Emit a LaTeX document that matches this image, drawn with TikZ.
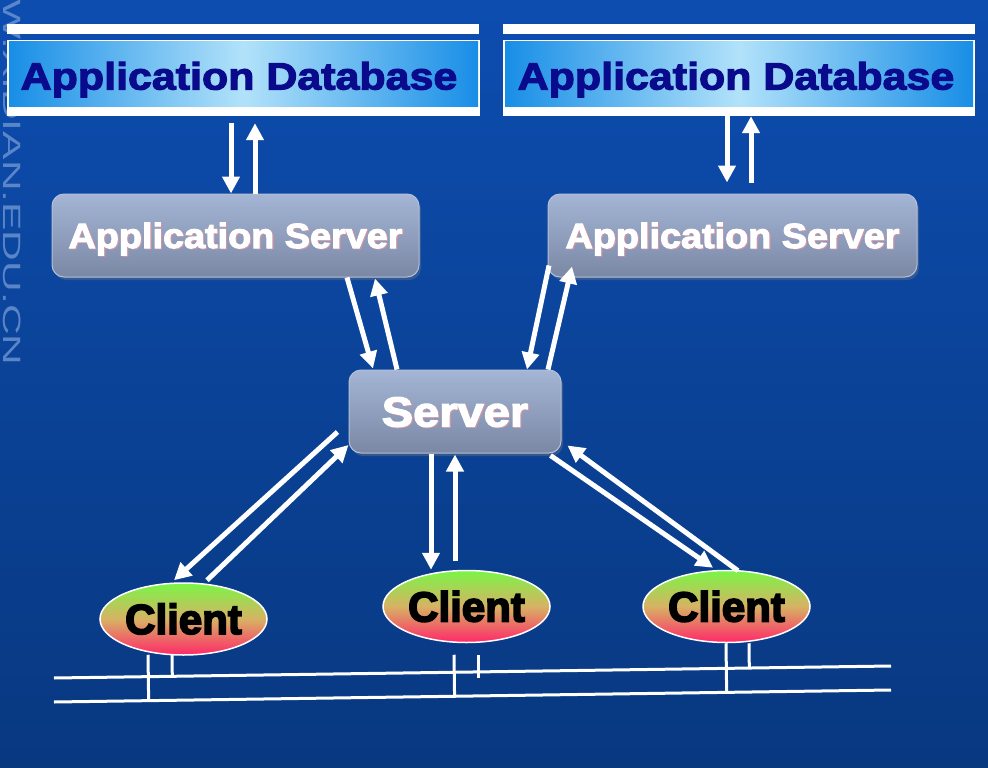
\documentclass[tikz,border=0pt]{standalone}
\usepackage{fontspec}
\usetikzlibrary{arrows.meta,shapes.geometric,shadows,calc}
\newfontfamily\dbfont[FakeStretch=1.13,FakeBold=3]{Liberation Sans}
\newfontfamily\asfont[FakeStretch=1.08,FakeBold=3]{Liberation Sans}
\newfontfamily\svfont[FakeStretch=1.12,FakeBold=3]{Liberation Sans}
\newfontfamily\clfont[FakeBold=4]{Liberation Sans}
\newfontfamily\wmfont[FakeStretch=1.7]{Liberation Sans}
\definecolor{bgtop}{RGB}{13,77,176}
\definecolor{bgbot}{RGB}{8,56,128}
\definecolor{boxtop}{RGB}{164,181,213}
\definecolor{boxbot}{RGB}{122,136,165}
\definecolor{boxline}{RGB}{180,192,216}
\definecolor{dbedge}{RGB}{24,142,230}
\definecolor{dbmid}{RGB}{178,226,250}
\definecolor{dbtxt}{RGB}{10,10,140}
\definecolor{cltop}{RGB}{122,245,70}
\definecolor{clmid}{RGB}{215,178,100}
\definecolor{clbot}{RGB}{255,40,105}
\definecolor{wmcol}{RGB}{110,150,210}
\definecolor{txtshadow}{RGB}{205,150,165}
\begin{document}
\begin{tikzpicture}[x=1pt,y=-1pt,
  arr/.style={white, line width=5pt, -{Triangle[width=17pt,length=17pt]}},
  bus/.style={white, line width=3pt},
  dbframe/.style={rectangle, fill=white, inner sep=0pt, minimum height=76pt},
  dbtext/.style={inner sep=0pt, text=dbtxt, font=\dbfont\bfseries\fontsize{38}{40}\selectfont, text height=27pt, text depth=0pt},
  srvbox/.style={rectangle, rounded corners=12pt, top color=boxtop, bottom color=boxbot, draw=boxline, line width=1pt, inner sep=0pt,
    drop shadow={opacity=0.35, shadow xshift=2pt, shadow yshift=-3pt}},
  wtext/.style={inner sep=0pt, text=white, text depth=0pt},
  stext/.style={inner sep=0pt, text=txtshadow, text depth=0pt},
  clientnode/.style={ellipse, minimum width=167pt, minimum height=72pt, inner sep=0pt, draw=white, line width=1.5pt,
    top color=cltop, bottom color=clbot, middle color=clmid, text=black,
    font=\clfont\bfseries\fontsize{42}{44}\selectfont, text height=30pt, text depth=0pt}
]
\useasboundingbox (0,0) rectangle (988,768);
\shade[top color=bgtop, bottom color=bgbot] (0,0) rectangle (988,768);
% watermark
\node[rotate=-90, anchor=base west, inner sep=0pt, text=wmcol, opacity=0.8,
  font=\wmfont\fontsize{25}{26}\selectfont] (wm) at (3,-81) {WWW.XIDIAN.EDU.CN};
% databases
\fill[white] (7,24) rectangle (479,34);
\node[dbframe, minimum width=473pt] (db1) at (243.5,78) {};
\shade[left color=dbedge, right color=dbedge, middle color=dbmid] (9,42) rectangle (478,106);
\node[dbtext] (db1t) at (239,76) {Application Database};
\fill[white] (503,24) rectangle (975,34);
\node[dbframe, minimum width=472pt] (db2) at (739,78) {};
\shade[left color=dbedge, right color=dbedge, middle color=dbmid] (505,42) rectangle (973,106);
\node[dbtext] (db2t) at (736,76) {Application Database};
% servers
\node[srvbox, minimum width=367pt, minimum height=83pt] (as1) at (235.5,235.5) {};
\node[srvbox, minimum width=369pt, minimum height=83pt] (as2) at (732.5,235.5) {};
\node[srvbox, minimum width=212pt, minimum height=83pt] (srv) at (455,411.5) {};
\node[stext, text height=25pt, font=\asfont\bfseries\fontsize{35}{36}\selectfont] at ([shift={(1.2,0.8)}]as1.center) {Application Server};
\node[wtext, text height=25pt, font=\asfont\bfseries\fontsize{35}{36}\selectfont] (as1t) at (as1.center) {Application Server};
\node[stext, text height=25pt, font=\asfont\bfseries\fontsize{35}{36}\selectfont] at ([shift={(1.2,0.8)}]as2.center) {Application Server};
\node[wtext, text height=25pt, font=\asfont\bfseries\fontsize{35}{36}\selectfont] (as2t) at (as2.center) {Application Server};
\node[stext, text height=30pt, font=\svfont\bfseries\fontsize{42}{44}\selectfont] at ([shift={(1.2,0.8)}]srv.center) {Server};
\node[wtext, text height=30pt, font=\svfont\bfseries\fontsize{42}{44}\selectfont] (srvt) at (srv.center) {Server};
% clients
\node[clientnode] (c1) at (183.5,619) {Client};
\node[clientnode] (c2) at (466.5,606.5) {Client};
\node[clientnode] (c3) at (726.5,606.5) {Client};
% arrows db <-> app servers
\draw[arr] ([shift={(-12.5,7)}]db1.south) -- ([shift={(-4.5,0)}]as1.north);
\draw[arr] ([shift={(19.5,0)}]as1.north) -- ([shift={(11.5,7)}]db1.south);
\draw[arr] ([shift={(-12,0)}]db2.south) -- ([shift={(-5.5,-11)}]as2.north);
\draw[arr] ([shift={(18.5,-11)}]as2.north) -- ([shift={(12,0)}]db2.south);
% app servers <-> server
\draw[arr] ([shift={(111.5,0)}]as1.south) -- ([shift={(-82,-1)}]srv.north);
\draw[arr] ([shift={(-58,0)}]srv.north) -- ([shift={(139.5,1)}]as1.south);
\draw[arr] ([shift={(-183.5,-12)}]as2.south) -- ([shift={(72,0)}]srv.north);
\draw[arr] ([shift={(93,0)}]srv.north) -- ([shift={(-160.5,-11)}]as2.south);
% server <-> clients
\draw[arr] ([shift={(-11,20.5)}]srv.west) -- ([shift={(-9.5,-2)}]c1.north);
\draw[arr] ([shift={(23.5,-2)}]c1.north) -- ([shift={(0,33.5)}]srv.west);
\draw[arr] ([shift={(-24,0)}]srv.south) -- ([shift={(-35.5,0)}]c2.north);
\draw[arr] ([shift={(-11.5,-9)}]c2.north) -- ([shift={(0,1)}]srv.south);
\draw[arr] ([shift={(-11,2)}]srv.south east) -- ([shift={(-13.5,-2)}]c3.north);
\draw[arr] ([shift={(11.5,1)}]c3.north) -- ([shift={(6,-8)}]srv.south east);
% bus lines
\coordinate (l1a) at (54,678);
\coordinate (l1b) at (891,666);
\coordinate (l2a) at (54,702);
\coordinate (l2b) at (891,690);
\draw[bus] (l1a) -- (l1b);
\draw[bus] (l2a) -- (l2b);
% ticks
\coordinate (t11) at ([shift={(-35.5,-1)}]c1.south);
\coordinate (t12) at ([shift={(-11.5,-1)}]c1.south);
\coordinate (t21) at ([shift={(-12.5,11.5)}]c2.south);
\coordinate (t22) at ([shift={(11.5,11.5)}]c2.south);
\coordinate (t22e) at ([shift={(11.5,34.5)}]c2.south);
\coordinate (t31) at ([shift={(-0.5,0)}]c3.south);
\coordinate (t32) at ([shift={(22.5,0)}]c3.south);
\draw[bus] (t11) -- ($(l2a)!(t11)!(l2b)$);
\draw[bus] (t12) -- ($(l1a)!(t12)!(l1b)$);
\draw[bus] (t21) -- ($(l2a)!(t21)!(l2b)$);
\draw[bus] (t22) -- (t22e);
\draw[bus] (t31) -- ($(l2a)!(t31)!(l2b)$);
\draw[bus] (t32) -- ($(l1a)!(t32)!(l1b)$);
\end{tikzpicture}
\end{document}
